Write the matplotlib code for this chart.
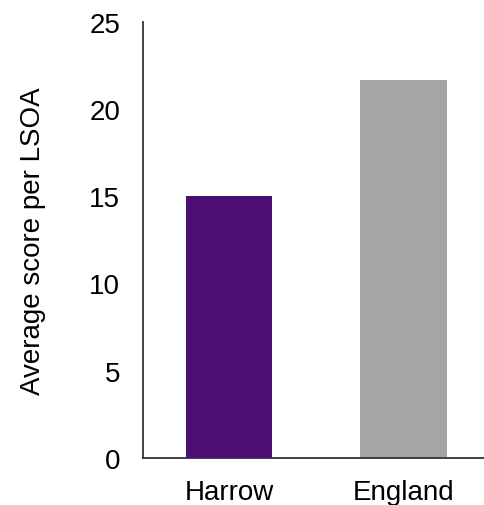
import matplotlib.pyplot as plt

plt.rcParams['font.family'] = ['Liberation Sans', 'DejaVu Sans']

areas = ["Harrow", "England"]
scores = [15.0, 21.7]
bar_colors = ["#4b0f72", "#a5a5a5"]
yticks = [0, 5, 10, 15, 20, 25]

fig = plt.figure(figsize=(4.85, 5.06), dpi=100)
ax = fig.add_axes([0.2948, 0.0935, 0.7052, 0.861])

ax.bar(range(len(areas)), scores, width=0.493, color=bar_colors)

ax.set_xlim(-0.493, 1.467)
ax.set_ylim(0, 25)
ax.set_xticks(range(len(areas)))
ax.set_xticklabels(areas)
ax.set_yticks(yticks)

ax.tick_params(axis='both', length=0, labelsize=20)
ax.tick_params(axis='y', pad=16.5)
ax.tick_params(axis='x', pad=15)
ax.set_ylabel("Average score per LSOA", fontsize=20, labelpad=31)

ax.spines['top'].set_visible(False)
ax.spines['right'].set_visible(False)
ax.spines['left'].set_color('#333333')
ax.spines['bottom'].set_color('#333333')
ax.spines['left'].set_linewidth(1.3)
ax.spines['bottom'].set_linewidth(1.3)

fig.savefig("out.png", dpi=100)
